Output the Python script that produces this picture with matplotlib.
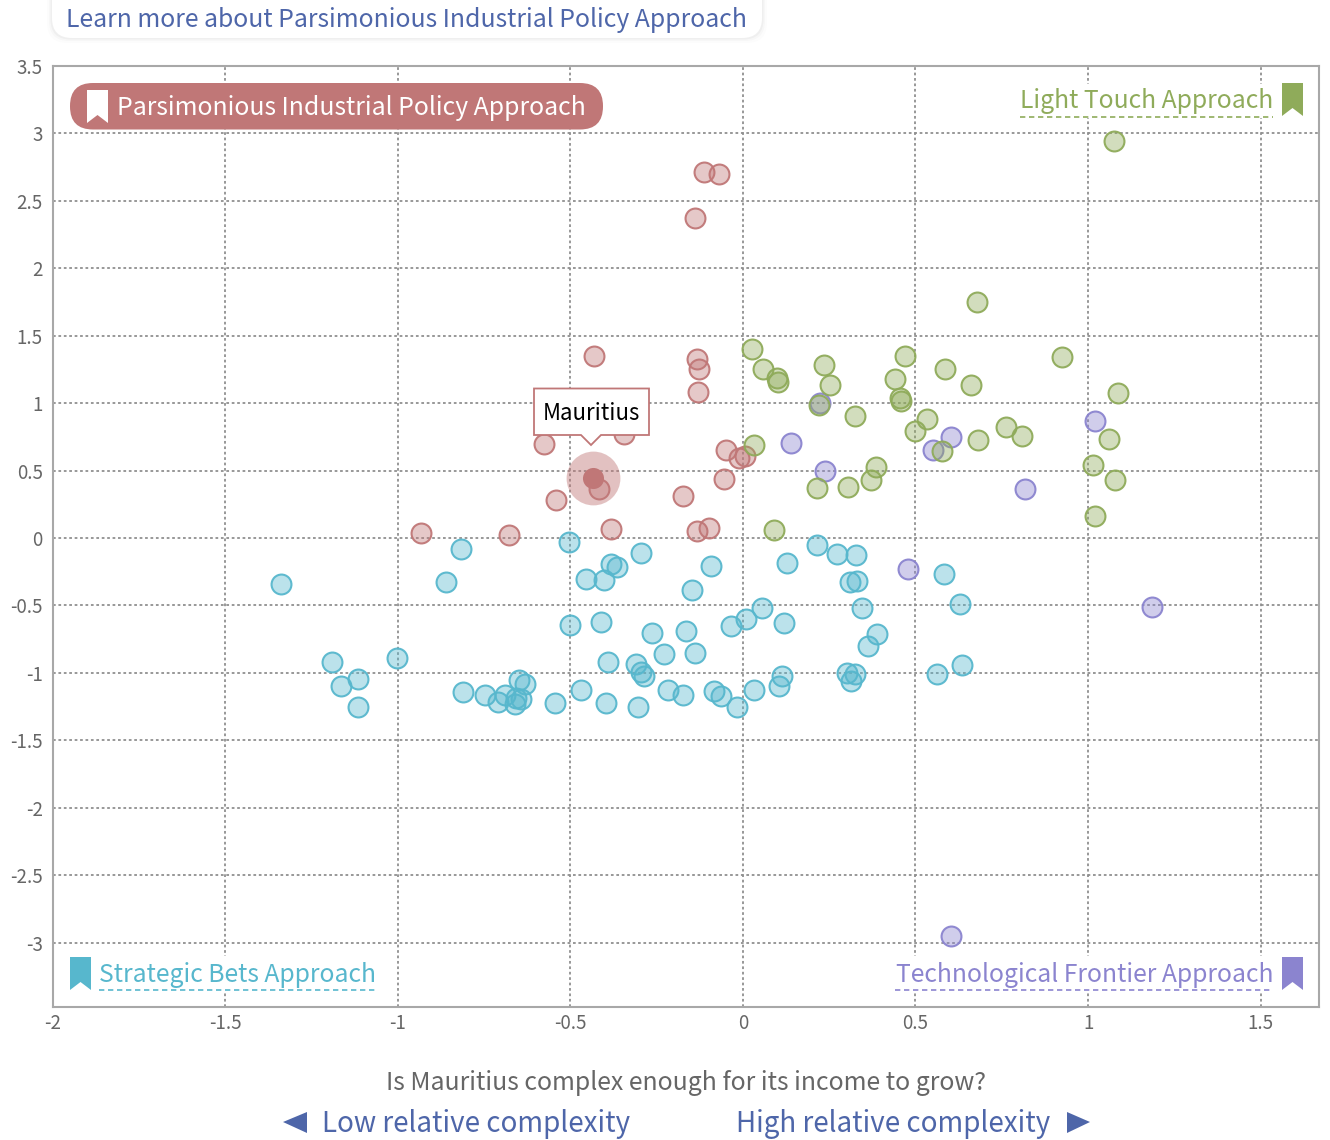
import matplotlib
matplotlib.use("Agg")
import matplotlib.pyplot as plt
from matplotlib.patches import FancyBboxPatch, Polygon, Rectangle
from matplotlib.transforms import Affine2D

plt.rcParams['font.family'] = ['Noto Sans CJK SC', 'DejaVu Sans']

red_x = [-0.113,-0.070,-0.139,-0.432,-0.133,-0.127,-0.130,-0.576,-0.345,-0.049,-0.012,0.006,-0.055,-0.174,-0.417,-0.542,-0.382,-0.133,-0.098,-0.933,-0.678]
red_y = [2.712,2.698,2.372,1.345,1.330,1.249,1.079,0.695,0.769,0.650,0.591,0.606,0.436,0.310,0.362,0.281,0.067,0.052,0.074,0.037,0.022]
green_x = [1.075,0.678,0.924,0.469,0.026,0.058,0.098,0.101,0.235,0.252,0.440,0.585,0.660,1.086,0.455,0.458,0.220,0.324,0.533,0.498,0.032,0.576,0.681,0.762,0.808,1.060,1.014,1.078,0.385,0.371,0.304,0.214,1.020,0.090]
green_y = [2.942,1.752,1.338,1.345,1.397,1.249,1.183,1.153,1.279,1.131,1.175,1.249,1.131,1.072,1.035,1.013,0.983,0.902,0.880,0.791,0.687,0.643,0.724,0.820,0.754,0.732,0.540,0.429,0.525,0.429,0.377,0.370,0.163,0.059]
purple_x = [0.223,1.020,0.603,0.550,0.139,0.238,0.817,0.478,1.185,0.603]
purple_y = [0.998,0.865,0.746,0.650,0.702,0.495,0.362,-0.229,-0.510,-2.949]
blue_x = [-1.338,-0.860,-0.817,-0.504,-0.455,-0.403,-0.382,-0.365,-0.295,-0.093,-0.148,0.127,0.214,0.272,0.327,0.310,0.330,0.582,0.629,0.345,0.055,0.009,-0.035,0.119,-0.501,-0.411,-0.264,-0.165,0.388,0.362,-0.229,-0.139,-0.391,-0.310,-0.295,-0.287,-1.191,-1.002,-1.115,-1.165,-1.115,-0.811,-0.747,-0.710,-0.689,-0.660,-0.658,-0.643,-0.649,-0.632,-0.545,-0.469,-0.397,-0.304,-0.217,-0.174,-0.084,-0.064,-0.017,0.032,0.104,0.113,0.301,0.324,0.313,0.562,0.634]
blue_y = [-0.340,-0.325,-0.081,-0.030,-0.303,-0.310,-0.192,-0.214,-0.111,-0.207,-0.384,-0.185,-0.052,-0.118,-0.126,-0.325,-0.318,-0.266,-0.488,-0.517,-0.517,-0.599,-0.650,-0.628,-0.643,-0.621,-0.702,-0.687,-0.710,-0.798,-0.857,-0.850,-0.916,-0.931,-0.990,-1.020,-0.916,-0.887,-1.042,-1.094,-1.249,-1.138,-1.160,-1.212,-1.160,-1.227,-1.183,-1.190,-1.050,-1.079,-1.220,-1.123,-1.220,-1.256,-1.123,-1.160,-1.131,-1.168,-1.256,-1.123,-1.094,-1.020,-0.998,-1.005,-1.057,-1.005,-0.939]
focus_x = [-0.435]
focus_y = [0.443]
focus_name = "Mauritius"

x_ticks = [-2, -1.5, -1, -0.5, 0, 0.5, 1, 1.5]
y_ticks = [-3, -2.5, -2, -1.5, -1, -0.5, 0, 0.5, 1, 1.5, 2, 2.5, 3, 3.5]
x_labels = ["-2", "-1.5", "-1", "-0.5", "0", "0.5", "1", "1.5"]
y_labels = ["-3", "-2.5", "-2", "-1.5", "-1", "-0.5", "0", "0.5", "1", "1.5", "2", "2.5", "3", "3.5"]

RED, GREEN, PURPLE, BLUE = "#c07777", "#8fab5a", "#8b84cf", "#57b7cd"
NAVY, GREY = "#4e66a9", "#666666"
W, H = 1330, 1140

fig = plt.figure(figsize=(W / 100, H / 100), dpi=100, facecolor="white")
L, R, T, B = 52.5, 1319, 65.7, 1007.3
ax = fig.add_axes([L / W, 1 - B / H, (R - L) / W, (B - T) / H])
ax.set_xlim(-2, 1.669)
ax.set_ylim(-3.478, 3.49)
ax.set_xticks(x_ticks, x_labels)
ax.set_yticks(y_ticks, y_labels)
ax.tick_params(length=0, labelsize=13.5, labelcolor=GREY)
ax.tick_params(axis="x", pad=4)
ax.tick_params(axis="y", pad=7)
ax.grid(True, color="#909090", lw=1.3, ls=(0, (1.5, 1.5)))
ax.set_axisbelow(True)
for s in ax.spines.values():
    s.set_color("#a8a8a8")
    s.set_linewidth(1.5)

for xs, ys, c in [(red_x, red_y, RED), (blue_x, blue_y, BLUE), (purple_x, purple_y, PURPLE), (green_x, green_y, GREEN)]:
    ax.scatter(xs, ys, s=205, facecolors=matplotlib.colors.to_rgba(c, 0.4),
               edgecolors=matplotlib.colors.to_rgba(c, 0.95), linewidths=1.5, zorder=3, clip_on=False)
ax.scatter(focus_x, focus_y, s=1500, color=RED, alpha=0.45, linewidths=0, zorder=4)
ax.scatter(focus_x, focus_y, s=230, color=RED, linewidths=0, zorder=5)

# overlay annotations in reference pixel coordinates
tr = Affine2D().scale(1, -1).translate(0, H)

def poly(pts, **kw):
    p = Polygon(pts, closed=True, transform=tr, clip_on=False, **kw)
    fig.add_artist(p)

def bookmark(x0, y0, c):
    poly([(x0, y0), (x0 + 21, y0), (x0 + 21, y0 + 33), (x0 + 10.5, y0 + 25), (x0, y0 + 33)], fc=c, ec="none", zorder=8)

def text(x, y, s, size, c, ha="left", **kw):
    fig.text(x, y, s, transform=tr, fontsize=size, color=c, ha=ha, va="center", zorder=9, **kw)

def under(x0, x1, y, c):
    fig.add_artist(plt.Line2D([x0, x1], [y, y], transform=tr, color=c, lw=1.2, ls=(0, (3.2, 2.2)), zorder=8))

def backing(x0, y0, x1, y1):
    fig.add_artist(Rectangle((x0, y0), x1 - x0, y1 - y0, transform=tr, fc="white", ec="none", zorder=7))

# top button with soft shadow
for grow, a in [(5, 0.012), (3, 0.02), (1.5, 0.03)]:
    fig.add_artist(FancyBboxPatch((52 - grow, -30), 710 + 2 * grow, 68 + grow,
                                  boxstyle="round,pad=0,rounding_size=20", transform=tr,
                                  fc=(0, 0, 0, a), ec="none", zorder=6))
fig.add_artist(FancyBboxPatch((52, -30), 710, 68, boxstyle="round,pad=0,rounding_size=20",
                              transform=tr, fc="white", ec="none", zorder=7))
text(66, 20, "Learn more about Parsimonious Industrial Policy Approach", 17.85, NAVY)

# selected quadrant pill
fig.add_artist(FancyBboxPatch((70, 83), 533, 46.5, boxstyle="round,pad=0,rounding_size=23",
                              transform=tr, fc=RED, ec="none", zorder=7))
bookmark(87, 90, "white")
text(117, 108, "Parsimonious Industrial Policy Approach", 17.85, "white")

# quadrant labels
backing(1016, 84, 1276, 118)
text(1273, 101.5, "Light Touch Approach", 17.8, GREEN, ha="right")
under(1020, 1273, 116.5, GREEN)
bookmark(1282, 83, GREEN)
backing(95, 956, 380, 991)
text(99, 975, "Strategic Bets Approach", 17.8, BLUE)
under(99, 376, 990, BLUE)
bookmark(70, 957, BLUE)
backing(891, 956, 1276, 991)
text(1273, 975, "Technological Frontier Approach", 17.8, PURPLE, ha="right")
under(895, 1273, 990, PURPLE)
bookmark(1282, 957, PURPLE)

# tooltip
poly([(534, 388.5), (649, 388.5), (649, 435), (601, 435), (591, 445), (581, 435), (534, 435)],
     fc="white", ec=RED, lw=1.3, zorder=8)
text(591.5, 414, focus_name, 16, "black", ha="center")

# axis captions
text(686, 1083, "Is Mauritius complex enough for its income to grow?", 17.9, GREY, ha="center")
text(322, 1124, "Low relative complexity", 20, NAVY)
text(1050, 1124, "High relative complexity", 20, NAVY, ha="right")
poly([(283, 1122), (307, 1112), (307, 1133)], fc=NAVY, ec="none", zorder=8)
poly([(1090, 1122), (1067, 1112), (1067, 1133)], fc=NAVY, ec="none", zorder=8)

fig.savefig("out.png", dpi=100)
